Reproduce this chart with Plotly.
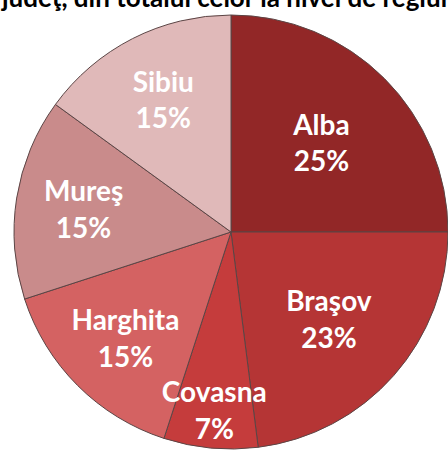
import plotly.graph_objects as go

# share of each county in the regional total (%)
counties = ["Alba", "Braşov", "Covasna", "Harghita", "Mureş", "Sibiu"]
shares = [25, 23, 7, 15, 15, 15]
slice_colors = ["#922727", "#b53535", "#c53c3c", "#d46262", "#c98b8b", "#e0b9b9"]

title_text = "judeţ, din totalul celor la nivel de regiune"

fig = go.Figure()

# coloured slices
fig.add_trace(go.Pie(labels=counties,
                     values=shares,
                     sort=False,
                     direction="clockwise",
                     rotation=0,
                     marker=dict(colors=slice_colors,
                                 line=dict(color="#5b4545", width=1)),
                     textinfo="none",
                     hoverinfo="skip",
                     showlegend=False))

# same pie again, transparent, only for the labels so no slice covers them
fig.add_trace(go.Pie(labels=counties,
                     values=shares,
                     sort=False,
                     direction="clockwise",
                     rotation=0,
                     marker=dict(colors=["rgba(0,0,0,0)"] * len(counties),
                                 line=dict(width=0)),
                     texttemplate="%{label}<br>%{percent:.0%}",
                     textposition="inside",
                     insidetextorientation="horizontal",
                     textfont=dict(family="Lato", size=28, color="white",
                                   weight="bold"),
                     hoverinfo="label+percent",
                     showlegend=False))

fig.update_layout(
    width=448, height=451,
    margin=dict(l=14, r=0, t=13, b=0),
    paper_bgcolor="white",
    plot_bgcolor="white",
    uniformtext=dict(minsize=28, mode="show"),
    annotations=[dict(text=f"<b>{title_text}</b>",
                      xref="paper", yref="paper",
                      x=0, y=1, xanchor="left", yanchor="bottom",
                      xshift=-15, yshift=-2,
                      showarrow=False,
                      font=dict(family="Lato", size=26, color="black"))],
)

# the page body has an 8px default margin; drop it so the chart fills the window
fig.write_html("out.html",
               config={"displayModeBar": False},
               post_script="document.body.style.margin='0';")
